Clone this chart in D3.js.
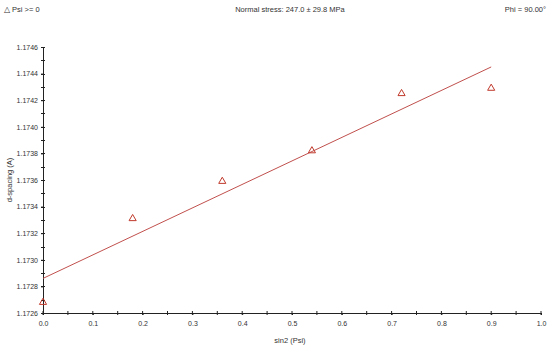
<!DOCTYPE html>
<html>
<head>
<script src="https://cdnjs.cloudflare.com/ajax/libs/d3/7.8.5/d3.min.js"></script>
<style>
  body { margin: 0; background: #fff; }
  svg text { font-family: Arial, "Liberation Sans", sans-serif; fill: #333; }
</style>
</head>
<body>
<script>
// measured points (sin2 psi vs d-spacing)
var sinPsi = [0.0, 0.18, 0.36, 0.54, 0.72, 0.90];
var dSpacing = [1.17268, 1.17331, 1.17359, 1.17382, 1.17425, 1.17429];
// fitted line end points
var fitX = [0.0, 0.90];
var fitY = [1.17286, 1.17445];
var xTicks = [0, 0.1, 0.2, 0.3, 0.4, 0.5, 0.6, 0.7, 0.8, 0.9, 1.0];
var yTicks = [1.1726, 1.1728, 1.1730, 1.1732, 1.1734, 1.1736, 1.1738, 1.1740, 1.1742, 1.1744, 1.1746];

var width = 550, height = 349;
var margin = { left: 43, right: 9, top: 47, bottom: 36 };

var svg = d3.select('body').append('svg')
    .attr('width', width).attr('height', height);

var x = d3.scaleLinear().domain([0, 1]).range([margin.left, width - margin.right]);
var y = d3.scaleLinear().domain([1.1726, 1.1746]).range([height - margin.bottom, margin.top]);

// header texts
svg.append('text').attr('x', 4).attr('y', 12).attr('font-size', 7.5).text('\u25B3 Psi >= 0');
svg.append('text').attr('x', 290).attr('y', 12).attr('font-size', 7.5)
    .attr('text-anchor', 'middle').text('Normal stress: 247.0 \u00B1 29.8 MPa');
svg.append('text').attr('x', 546).attr('y', 12).attr('font-size', 7.5)
    .attr('text-anchor', 'end').text('Phi = 90.00\u00B0');

// minor ticks
var minorX = d3.range(0, 1.0001, 0.05);
var minorY = d3.range(1.1726, 1.17461, 0.0001);
svg.append('g').selectAll('line').data(minorX).enter().append('line')
    .attr('x1', d => x(d)).attr('x2', d => x(d))
    .attr('y1', y.range()[0] - 2).attr('y2', y.range()[0] + 2)
    .attr('stroke', '#222').attr('stroke-width', 1);
svg.append('g').selectAll('line').data(minorY).enter().append('line')
    .attr('y1', d => Math.round(y(d)) + 0.5).attr('y2', d => Math.round(y(d)) + 0.5)
    .attr('x1', x.range()[0] - 2).attr('x2', x.range()[0] + 2)
    .attr('stroke', '#222').attr('stroke-width', 1);

// axes
var xAxis = svg.append('g')
    .attr('transform', 'translate(0,' + y.range()[0] + ')')
    .call(d3.axisBottom(x).tickValues(xTicks).tickFormat(d3.format('.1f')).tickSize(2).tickPadding(6));
var yAxis = svg.append('g')
    .attr('transform', 'translate(' + x.range()[0] + ',0)')
    .call(d3.axisLeft(y).tickValues(yTicks).tickFormat(d3.format('.4f')).tickSize(2).tickPadding(3));
[xAxis, yAxis].forEach(function (g) {
  g.select('.domain').attr('stroke', '#222');
  g.selectAll('.tick line').attr('stroke', '#222');
  g.selectAll('.tick text').attr('font-size', 7).attr('fill', '#333')
    .style('font-family', 'Arial, "Liberation Sans", sans-serif');
});

// axis labels
svg.append('text').attr('x', 290).attr('y', 343).attr('font-size', 7.5)
    .attr('text-anchor', 'middle').text('sin2 (Psi)');
svg.append('text').attr('transform', 'translate(12,' + ((margin.top + height - margin.bottom) / 2) + ') rotate(-90)')
    .attr('font-size', 7.5).attr('text-anchor', 'middle').text('d-spacing (A)');

// fitted line
svg.append('line')
    .attr('x1', x(fitX[0])).attr('y1', y(fitY[0]))
    .attr('x2', x(fitX[1])).attr('y2', y(fitY[1]))
    .attr('stroke', '#c0504d').attr('stroke-width', 1);

// triangle markers
var tri = d3.symbol().type(d3.symbolTriangle).size(22);
svg.append('g').selectAll('path').data(sinPsi).enter().append('path')
    .attr('d', tri)
    .attr('transform', (d, i) => 'translate(' + x(d) + ',' + y(dSpacing[i]) + ')')
    .attr('fill', 'none').attr('stroke', '#c0392b').attr('stroke-width', 1);
</script>
</body>
</html>
